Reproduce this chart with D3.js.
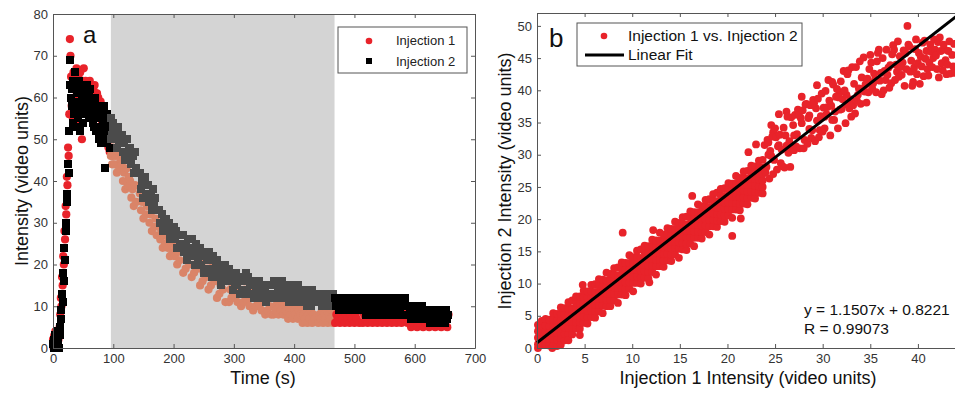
<!DOCTYPE html>
<html>
<head>
<meta charset="utf-8">
<script src="https://cdn.jsdelivr.net/npm/d3@7"></script>
<style>
  body { margin: 0; background: #fff; }
  text { font-family: "Liberation Sans", Arial, Helvetica, sans-serif; }
</style>
</head>
<body>
<svg id="chart" width="955" height="395"></svg>
<script>
// ---- panel a : intensity vs time ----
// early samples every 1 s from t = 0, late samples every 2 s from t = 100 (null = gap between chunks)
const earlyStep = 1, lateStart = 100, lateStep = 2;
const shadeStart = 96, shadeEnd = 467;

const inj1Early = [2,0,3,1,4,2,3,1,4,2,3,5,
  8,12,10,17,15,22,20,28,26,34,32,41,39,48,46,56,
  74,70,65,
  58,63,55,66,60,53,64,57,67,61,56,65,59,54,66,62,58,50,64,60,67,57,
  60,64,57,62,58,63,56,61,64,58,62,55,60,59,
  62,59,63,57,61,58,
  61,56,60,53,58,55,59,52,57,54,56,51,55,53,50,54,52,49,53,48,51,47,50,46,
  47,44,46];
const inj2Early = [1,2,0,3,1,2,4,1,3,2,0,3,
  5,9,7,13,11,18,16,24,21,30,28,37,35,44,42,52,
  63,69,60,
  58,62,54,64,56,66,53,63,57,61,55,59,64,52,58,62,56,60,54,63,57,61,
  59,62,56,60,63,57,61,55,58,62,56,60,58,54,
  58,53,60,55,57,52,
  57,52,58,50,55,53,57,49,56,51,54,58,50,43,55,52,56,49,54,51,53,48,52,50,
  55,51,53];

const inj1Late = [48,44,46,42,47,43,45,44,40,42,38,43,39,41,40,36,38,34,39,35,
  null,null,
  37,33,35,31,36,32,34,34,30,32,28,33,29,31,27,
  null,
  29,26,28,24,27,25,27,24,26,22,25,23,25,22,24,20,23,21,
  null,null,
  18,23,19,21,24,20,22,17,22,18,20,23,19,21,15,20,16,18,21,17,19,14,19,15,17,20,16,18,12,17,13,15,18,14,16,11,16,
  null,
  11,14,12,15,13,12,15,11,13,14,10,13,11,14,12,11,14,10,12,13,9,12,10,13,11,10,13,9,11,12,8,11,9,12,10,8,
  null,
  8,10,9,11,8,10,9,11,8,10,9,11,7,9,8,10,7,9,8,10,7,9,8,10,6,8,7,9,6,8,7,9,6,8,7,
  null,null,
  6,8,7,9,6,8,7,9,6,8,7,9,6,8,
  6,8,7,9,6,8,7,9,6,8,7,9,6,8,7,9,6,8,7,9,6,
  null,null,
  6,8,7,9,6,8,7,9,6,8,7,9,6,8,7,9,6,8,7,9,6,8,7,9,6,8,7,9,6,8,7,9,6,8,7,9,
  null,
  6,9,7,5,8,6,9,7,5,8,6,9,7,5,8,6,9,7,5,8,6,9,7,5,8,6,9,7,5,8,6,9,7,5,8];
const inj2Late = [54,50,52,48,53,49,51,51,47,49,45,50,46,48,48,44,46,42,47,43,
  null,null,
  42,38,40,36,41,37,39,39,35,37,33,38,34,36,33,
  null,
  33,30,32,28,31,29,31,28,30,26,29,27,29,26,28,24,27,25,
  null,null,
  27,23,25,21,26,22,24,26,22,24,20,25,21,23,24,20,22,18,23,19,21,23,19,21,17,22,18,20,21,17,19,15,20,16,18,20,16,
  null,
  19,16,18,14,17,15,18,15,17,13,16,14,16,13,18,14,17,15,16,13,15,12,14,15,12,16,13,14,15,12,14,11,13,15,12,13,
  null,
  16,13,15,12,14,15,12,16,13,14,15,12,14,11,13,14,11,15,12,13,15,12,14,11,13,14,11,13,10,12,13,10,14,11,12,
  null,null,
  13,11,12,10,13,11,12,10,13,11,12,10,13,11,
  12,10,11,9,12,10,11,9,12,10,11,9,12,10,11,9,12,10,11,9,12,
  null,null,
  12,9,11,8,10,12,9,11,8,10,12,9,11,8,10,12,9,11,8,10,12,9,11,8,10,12,9,11,8,10,12,9,11,8,10,12,
  null,
  10,8,9,7,10,8,9,7,10,8,9,7,10,8,9,7,9,7,8,6,9,7,8,6,9,7,8,6,9,7,8,6,9,7,8];

const timeTicks = [0,100,200,300,400,500,600,700];
const intensityTicks = [0,10,20,30,40,50,60,70,80];
const legendA = ['Injection 1', 'Injection 2'];

// ---- panel b : injection 1 vs injection 2 ----
const fitSlope = 1.1507, fitIntercept = 0.8221, fitR = 0.99073;
const injTicksX = [0,5,10,15,20,25,30,35,40];
const injTicksY = [0,5,10,15,20,25,30,35,40,45,50];
const legendB = ['Injection 1 vs. Injection 2', 'Linear Fit'];

const scatterPairs = [
  [0.1,0.0],[0.1,0.6],[0.1,1.6],[0.1,2.6],[0.1,3.6],
  [0.5,0.5],[0.5,1.5],[0.5,2.5],[0.5,3.5],[0.5,4.2],
  [0.9,0.5],[0.9,1.5],[0.9,2.5],[0.9,3.5],[0.9,4.5],
  [1.3,0.4],[1.3,1.4],[1.3,2.4],[1.3,3.4],[1.3,4.4],[1.6,0.0],
  [1.7,0.4],[1.7,1.4],[1.7,2.4],[1.7,3.4],[1.7,4.4],[1.7,5.4],
  [2.1,0.3],[2.1,1.3],[2.1,2.3],[2.1,3.3],[2.1,4.3],[2.1,5.3],
  [2.5,1.3],[2.5,2.3],[2.5,3.3],[2.5,4.3],[2.5,5.3],[2.5,6.3],[2.5,0.5],
  [2.9,1.2],[2.9,2.2],[2.9,3.2],[2.9,4.2],[2.9,5.2],[2.9,6.2],
  [3.3,2.1],[3.3,3.1],[3.3,4.1],[3.3,5.1],[3.3,6.1],[3.3,7.1],[3.3,1.2],
  [3.7,2.1],[3.7,3.1],[3.7,4.1],[3.7,5.1],[3.7,6.1],[3.7,7.4],
  [4.1,3.0],[4.1,4.0],[4.1,5.0],[4.1,6.0],[4.1,7.0],[4.1,8.0],
  [4.5,3.0],[4.5,4.0],[4.5,5.0],[4.5,6.0],[4.5,7.0],[4.5,8.0],[4.5,2.0],
  [4.9,3.9],[4.9,4.9],[4.9,5.9],[4.9,6.9],[4.9,7.9],[4.9,8.9],[4.8,9.8],
  [5.3,3.8],[5.3,4.8],[5.3,5.8],[5.3,6.8],[5.3,7.8],[5.3,8.8],
  [5.7,4.8],[5.7,5.8],[5.7,6.8],[5.7,7.8],[5.7,8.8],[5.7,9.8],
  [6.1,4.7],[6.1,5.7],[6.1,6.7],[6.1,7.7],[6.1,8.7],[6.1,9.9],
  [6.5,5.7],[6.5,6.7],[6.5,7.7],[6.5,8.7],[6.5,9.7],[6.5,10.7],
  [6.9,5.4],[6.9,6.6],[6.9,7.6],[6.9,8.6],[6.9,9.6],[6.9,10.6],
  [7.3,6.5],[7.3,7.5],[7.3,8.5],[7.3,9.5],[7.3,10.5],[7.3,11.7],
  [7.7,6.5],[7.7,7.5],[7.7,8.5],[7.7,9.5],[7.7,10.5],[7.7,11.5],
  [8.1,7.4],[8.1,8.4],[8.1,9.4],[8.1,10.4],[8.1,11.4],[8.1,12.4],
  [8.5,7.0],[8.5,8.3],[8.5,9.3],[8.5,10.3],[8.5,11.3],[8.5,12.5],
  [8.9,8.3],[8.9,9.3],[8.9,10.3],[8.9,11.3],[8.9,12.3],[8.9,13.3],[9.0,17.9],
  [9.3,8.2],[9.3,9.2],[9.3,10.2],[9.3,11.2],[9.3,12.2],[9.3,13.2],
  [9.7,9.2],[9.7,10.2],[9.7,11.2],[9.7,12.2],[9.7,13.2],[9.7,14.4],
  [10.1,8.8],[10.1,10.1],[10.1,11.1],[10.1,12.1],[10.1,13.1],[10.1,14.1],
  [10.5,10.1],[10.5,11.1],[10.5,12.1],[10.5,13.1],[10.5,14.1],[10.5,15.1],
  [10.9,10.0],[10.9,11.0],[10.9,12.0],[10.9,13.0],[10.9,14.0],[10.9,15.3],
  [11.3,10.9],[11.3,11.9],[11.3,12.9],[11.3,13.9],[11.3,14.9],[11.3,15.9],[11.8,10.2],
  [11.7,10.8],[11.7,11.8],[11.7,12.8],[11.7,13.8],[11.7,14.8],[11.7,15.8],
  [12.1,11.8],[12.1,12.8],[12.1,13.8],[12.1,14.8],[12.1,15.8],[12.1,16.8],[12.2,18.3],
  [12.5,11.4],[12.5,12.7],[12.5,13.7],[12.5,14.7],[12.5,15.7],[12.5,16.7],
  [12.9,12.7],[12.9,13.7],[12.9,14.7],[12.9,15.7],[12.9,16.7],[12.9,17.9],
  [13.3,12.6],[13.3,13.6],[13.3,14.6],[13.3,15.6],[13.3,16.6],[13.3,17.6],
  [13.7,13.6],[13.7,14.6],[13.7,15.6],[13.7,16.6],[13.7,17.6],[13.7,18.6],
  [14.1,13.5],[14.1,14.5],[14.1,15.5],[14.1,16.5],[14.1,17.5],[14.1,18.5],
  [14.5,14.5],[14.5,15.5],[14.5,16.5],[14.5,17.5],[14.5,18.5],[14.5,19.6],
  [14.9,14.0],[14.9,15.4],[14.9,16.4],[14.9,17.4],[14.9,18.4],[14.9,19.4],
  [15.3,15.3],[15.3,16.3],[15.3,17.3],[15.3,18.3],[15.3,19.3],[15.3,20.3],
  [15.7,15.2],[15.7,16.2],[15.7,17.2],[15.7,18.2],[15.7,19.2],[15.7,20.4],
  [16.1,16.2],[16.1,17.2],[16.1,18.2],[16.1,19.2],[16.1,20.2],[16.1,21.2],[16.3,23.6],
  [16.5,15.8],[16.5,17.1],[16.5,18.1],[16.5,19.1],[16.5,20.1],[16.5,21.1],
  [16.9,17.1],[16.9,18.1],[16.9,19.1],[16.9,20.1],[16.9,21.1],[16.9,22.3],
  [17.3,17.0],[17.3,18.0],[17.3,19.0],[17.3,20.0],[17.3,21.0],[17.3,22.0],
  [17.7,18.0],[17.7,19.0],[17.7,20.0],[17.7,21.0],[17.7,22.0],[17.7,23.0],
  [18.1,17.6],[18.1,18.9],[18.1,19.9],[18.1,20.9],[18.1,21.9],[18.1,23.1],
  [18.5,18.9],[18.5,19.9],[18.5,20.9],[18.5,21.9],[18.5,22.9],[18.5,23.9],
  [18.9,18.8],[18.9,19.8],[18.9,20.8],[18.9,21.8],[18.9,22.8],[18.9,24.1],
  [19.3,19.7],[19.3,20.7],[19.3,21.7],[19.3,22.7],[19.3,23.7],[19.3,24.7],
  [19.7,19.6],[19.7,20.6],[19.7,21.6],[19.7,22.6],[19.7,23.6],[19.7,24.8],
  [20.1,20.6],[20.1,21.6],[20.1,22.6],[20.1,23.6],[20.1,24.6],[20.1,25.6],[20.5,17.4],
  [20.5,20.2],[20.5,21.5],[20.5,22.5],[20.5,23.5],[20.5,24.5],[20.5,25.5],[21.4,20.1],
  [20.9,21.5],[20.9,22.5],[20.9,23.5],[20.9,24.5],[20.9,25.5],[20.9,26.7],
  [21.3,21.4],[21.3,22.4],[21.3,23.4],[21.3,24.4],[21.3,25.4],[21.3,26.4],
  [21.7,22.4],[21.7,23.4],[21.7,24.4],[21.7,25.4],[21.7,26.4],[21.7,27.4],
  [22.1,22.3],[22.1,23.3],[22.1,24.3],[22.1,25.3],[22.1,26.3],[22.1,27.5],
  [22.5,23.3],[22.5,24.3],[22.5,25.3],[22.5,26.3],[22.5,27.3],[22.5,28.3],
  [22.9,23.2],[22.9,24.2],[22.9,25.2],[22.9,26.2],[22.9,27.2],[22.9,28.2],
  [23.3,24.1],[23.3,25.1],[23.3,26.1],[23.3,27.1],[23.3,28.1],[23.3,29.1],
  [23.7,24.0],[23.7,25.0],[23.7,26.0],[23.7,27.0],[23.7,28.0],[23.7,29.2],
  [23.0,31.6],[22.2,30.4],[24.8,33.5],[24.6,29.8],[25.4,31.5],[26.2,31.4],
  [27.0,33.0],[27.8,34.9],[28.6,36.1],[29.4,35.3],[30.2,35.9],[31.0,35.4],
  [31.8,39.7],[32.6,37.8],
  [24.0,27.3],[24.1,28.1],[23.9,31.5],[24.2,32.3],[24.3,30.0],
  [24.4,26.3],[24.5,30.6],[24.3,31.9],[24.6,34.6],
  [24.8,27.0],[24.9,29.2],[24.7,32.8],[25.0,34.1],
  [25.2,27.7],[25.3,31.3],[25.1,32.7],[25.4,36.3],
  [25.6,28.7],[25.7,30.8],[25.5,33.1],[25.8,28.2],
  [26.0,28.0],[26.1,33.0],[25.9,34.2],[26.2,36.7],
  [26.4,30.3],[26.5,32.1],[26.3,35.9],[26.6,28.1],
  [26.8,31.0],[26.9,34.6],[26.7,35.8],[27.0,30.7],
  [27.2,31.3],[27.3,33.2],[27.1,36.2],[27.4,37.0],
  [27.6,31.0],[27.7,35.7],[27.5,36.2],[27.8,39.0],
  [28.0,31.0],[28.1,32.3],[27.9,36.9],[28.2,37.8],
  [28.4,31.7],[28.5,35.7],[28.3,37.9],[28.6,34.0],
  [28.8,32.6],[28.9,33.8],[28.7,37.7],[29.0,38.5],
  [29.2,32.1],[29.3,37.2],[29.1,38.0],[29.4,40.8],
  [29.6,32.7],[29.7,33.8],[29.5,38.7],[29.8,36.0],
  [30.0,33.6],[30.1,37.3],[29.9,39.5],[30.2,34.1],
  [30.4,36.3],[30.5,37.4],[30.3,39.9],[30.6,41.6],
  [30.8,33.0],[30.9,37.6],[30.7,38.4],[31.0,41.3],
  [31.2,35.4],[31.3,36.7],[31.1,40.9],[31.4,39.0],
  [31.6,34.1],[31.7,38.9],[31.5,40.2],[31.8,37.0],
  [32.0,37.1],[32.1,38.6],[31.9,41.4],[32.2,43.0],
  [32.4,34.9],[32.5,39.3],[32.3,40.0],[32.6,42.5],
  [32.8,37.2],[32.9,38.6],[32.7,43.1],[33.0,35.9],
  [33.2,37.7],[33.3,41.0],[33.1,43.6],[33.4,36.4],
  [33.6,38.4],[33.7,39.3],[33.5,43.6],[33.8,40.3],
  [34.0,37.9],[34.1,42.0],[33.9,44.5],[34.2,40.2],
  [34.4,39.8],[34.5,40.9],[34.3,45.1],[34.6,38.1],
  [34.8,39.7],[34.9,43.3],[34.7,41.8],[35.0,45.5],
  [35.2,40.3],[35.3,41.1],[35.1,44.3],[35.4,42.6],
  [35.6,39.7],[35.7,44.5],[35.5,41.7],[35.8,45.8],
  [36.0,41.5],[36.1,42.7],[35.9,46.3],[36.2,39.4],
  [36.4,40.0],[36.5,43.0],[36.3,45.0],[36.6,41.6],
  [36.8,42.4],[36.9,43.5],[36.7,46.3],[37.0,40.4],
  [37.2,41.1],[37.3,45.6],[37.1,43.9],[37.4,47.0],
  [37.6,41.6],[37.7,44.0],[37.5,46.3],[37.8,42.9],
  [38.0,42.1],[38.1,45.3],[37.9,47.6],[38.2,43.6],
  [38.4,44.3],[38.5,46.2],[38.3,42.4],[38.6,40.7],
  [38.8,43.3],[38.9,50.0],[38.7,45.8],[39.0,47.1],
  [39.2,42.9],[39.3,44.6],[39.1,46.8],[39.4,40.7],
  [39.6,43.5],[39.7,46.4],[39.5,41.3],[39.8,47.9],
  [40.0,44.2],[40.1,45.8],[39.9,42.5],[40.2,41.0],
  [40.4,43.7],[40.5,47.4],[40.3,45.2],[40.6,42.2],
  [40.8,44.9],[40.9,46.1],[40.7,47.7],[41.0,43.3],
  [41.2,44.3],[41.3,47.1],[41.1,42.3],[41.4,46.0],
  [41.6,45.0],[41.7,47.9],[41.5,43.6],[41.8,46.3],
  [42.0,43.3],[42.1,47.5],[41.9,45.4],[42.2,42.0],
  [42.4,46.1],[42.5,44.2],[42.3,48.2],[42.6,43.1],
  [42.8,46.3],[42.9,44.7],[42.7,47.1],[43.0,42.5],
  [43.2,46.1],[43.3,47.6],[43.1,44.0],[43.4,42.6],
  [43.7,43.7],[43.8,47.2],[43.6,45.5],[43.9,42.7]
];

// ---- colours ----
const RED = '#e8232a', SALMON = '#da8468', GRAY = '#4b4b4b', SHADE = '#d4d4d4', AXIS = '#555';
const FONT = '"Liberation Sans", Arial, Helvetica, sans-serif';

const svg = d3.select('#chart');

function series(early, late) {
	const pts = [];
	early.forEach((v, i) => { if (v != null) pts.push({ t: i * earlyStep, v: v }); });
	late.forEach((v, i) => { if (v != null) pts.push({ t: lateStart + i * lateStep, v: v }); });
	return pts;
}

function styleAxis(g) {
	g.selectAll('path, line').attr('stroke', AXIS).attr('stroke-width', 1);
	g.selectAll('text').attr('fill', '#333').style('font-size', '13px').style('font-family', FONT);
}

// ================= panel a =================
const xA = d3.scaleLinear().domain([0, 700]).range([53, 475]);
const yA = d3.scaleLinear().domain([0, 80]).range([348, 14]);
const inShade = t => t >= shadeStart && t <= shadeEnd;

svg.append('rect')
	.attr('x', xA(shadeStart)).attr('y', yA(80))
	.attr('width', xA(shadeEnd) - xA(shadeStart))
	.attr('height', yA(0) - yA(80))
	.attr('fill', SHADE);

const inj1 = series(inj1Early, inj1Late);
const inj2 = series(inj2Early, inj2Late);

svg.append('g').selectAll('circle')
	.data(inj1).enter().append('circle')
	.attr('cx', d => xA(d.t)).attr('cy', d => yA(d.v))
	.attr('r', 4.1)
	.attr('fill', d => inShade(d.t) ? SALMON : RED);

svg.append('g').attr('shape-rendering', 'crispEdges')
	.selectAll('rect')
	.data(inj2).enter().append('rect')
	.attr('x', d => xA(d.t) - 4).attr('y', d => yA(d.v) - 4)
	.attr('width', 8).attr('height', 8)
	.attr('fill', d => inShade(d.t) ? GRAY : '#000');

svg.append('g').attr('transform', 'translate(0,' + yA(0) + ')')
	.call(d3.axisBottom(xA).tickValues(timeTicks).tickSize(-4).tickSizeOuter(0).tickPadding(6))
	.call(styleAxis);
svg.append('g').attr('transform', 'translate(0,' + yA(80) + ')')
	.call(d3.axisTop(xA).tickValues(timeTicks).tickSize(-4).tickSizeOuter(0).tickFormat(''))
	.call(styleAxis);
svg.append('g').attr('transform', 'translate(' + xA(0) + ',0)')
	.call(d3.axisLeft(yA).tickValues(intensityTicks).tickSize(-4).tickSizeOuter(0).tickPadding(5))
	.call(styleAxis);
svg.append('g').attr('transform', 'translate(' + xA(700) + ',0)')
	.call(d3.axisRight(yA).tickValues(intensityTicks).tickSize(-4).tickSizeOuter(0).tickFormat(''))
	.call(styleAxis);

svg.append('text').attr('x', 83).attr('y', 43)
	.style('font-size', '24px').attr('fill', '#111').text('a');

svg.append('text')
	.attr('transform', 'translate(28,181) rotate(-90)')
	.attr('text-anchor', 'middle').style('font-size', '18px').attr('fill', '#111')
	.text('Intensity (video units)');
svg.append('text')
	.attr('x', (xA(0) + xA(700)) / 2 - 1).attr('y', 384)
	.attr('text-anchor', 'middle').style('font-size', '18px').attr('fill', '#111')
	.text('Time (s)');

// legend a
const legA = svg.append('g').attr('transform', 'translate(338,27)');
legA.append('rect').attr('width', 129).attr('height', 46)
	.attr('fill', '#fff').attr('stroke', AXIS);
legA.append('circle').attr('cx', 31).attr('cy', 14).attr('r', 3.3).attr('fill', RED);
legA.append('rect').attr('x', 28).attr('y', 31).attr('width', 6).attr('height', 6).attr('fill', '#000');
legA.selectAll('text.lab').data(legendA).enter().append('text')
	.attr('class', 'lab')
	.attr('x', 58).attr('y', (d, i) => 18 + i * 21)
	.style('font-size', '13px').attr('fill', '#222')
	.text(d => d);

// ================= panel b =================
const xB = d3.scaleLinear().domain([0, 44]).range([537, 956]);
const yB = d3.scaleLinear().domain([0, 52]).range([348, 13]);

svg.append('g').selectAll('circle')
	.data(scatterPairs).enter().append('circle')
	.attr('cx', d => xB(d[0])).attr('cy', d => yB(d[1]))
	.attr('r', 3.9)
	.attr('fill', RED);

svg.append('line')
	.attr('x1', xB(0)).attr('y1', yB(fitIntercept))
	.attr('x2', xB(44)).attr('y2', yB(fitSlope * 44 + fitIntercept))
	.attr('stroke', '#000').attr('stroke-width', 3);

svg.append('g').attr('transform', 'translate(0,' + yB(0) + ')')
	.call(d3.axisBottom(xB).tickValues(injTicksX).tickSize(-4).tickSizeOuter(0).tickPadding(6))
	.call(styleAxis);
svg.append('g').attr('transform', 'translate(0,' + yB(52) + ')')
	.call(d3.axisTop(xB).tickValues(injTicksX).tickSize(-4).tickSizeOuter(0).tickFormat(''))
	.call(styleAxis);
svg.append('g').attr('transform', 'translate(' + xB(0) + ',0)')
	.call(d3.axisLeft(yB).tickValues(injTicksY).tickSize(-4).tickSizeOuter(0).tickPadding(5))
	.call(styleAxis);

svg.append('text').attr('x', 549).attr('y', 47)
	.style('font-size', '26px').attr('fill', '#111').text('b');

svg.append('text')
	.attr('transform', 'translate(511,181) rotate(-90)')
	.attr('text-anchor', 'middle').style('font-size', '18px').attr('fill', '#111')
	.text('Injection 2 Intensity (video units)');
svg.append('text')
	.attr('x', 748).attr('y', 384)
	.attr('text-anchor', 'middle').style('font-size', '18px').attr('fill', '#111')
	.text('Injection 1 Intensity (video units)');

// legend b
const legB = svg.append('g').attr('transform', 'translate(577,23)');
legB.append('rect').attr('width', 225).attr('height', 43)
	.attr('fill', '#fff').attr('stroke', AXIS);
legB.append('circle').attr('cx', 27).attr('cy', 13).attr('r', 3.3).attr('fill', RED);
legB.append('line').attr('x1', 8).attr('x2', 47).attr('y1', 32).attr('y2', 32)
	.attr('stroke', '#000').attr('stroke-width', 3);
legB.selectAll('text.lab').data(legendB).enter().append('text')
	.attr('class', 'lab')
	.attr('x', 51).attr('y', (d, i) => 18 + i * 19)
	.style('font-size', '15.5px').attr('fill', '#111')
	.text(d => d);

// fit annotation
svg.append('text').attr('x', 804).attr('y', 315)
	.style('font-size', '15.5px').attr('fill', '#111')
	.text('y = ' + fitSlope + 'x + ' + fitIntercept);
svg.append('text').attr('x', 804).attr('y', 334)
	.style('font-size', '15.5px').attr('fill', '#111')
	.text('R = ' + fitR);
</script>
</body>
</html>
